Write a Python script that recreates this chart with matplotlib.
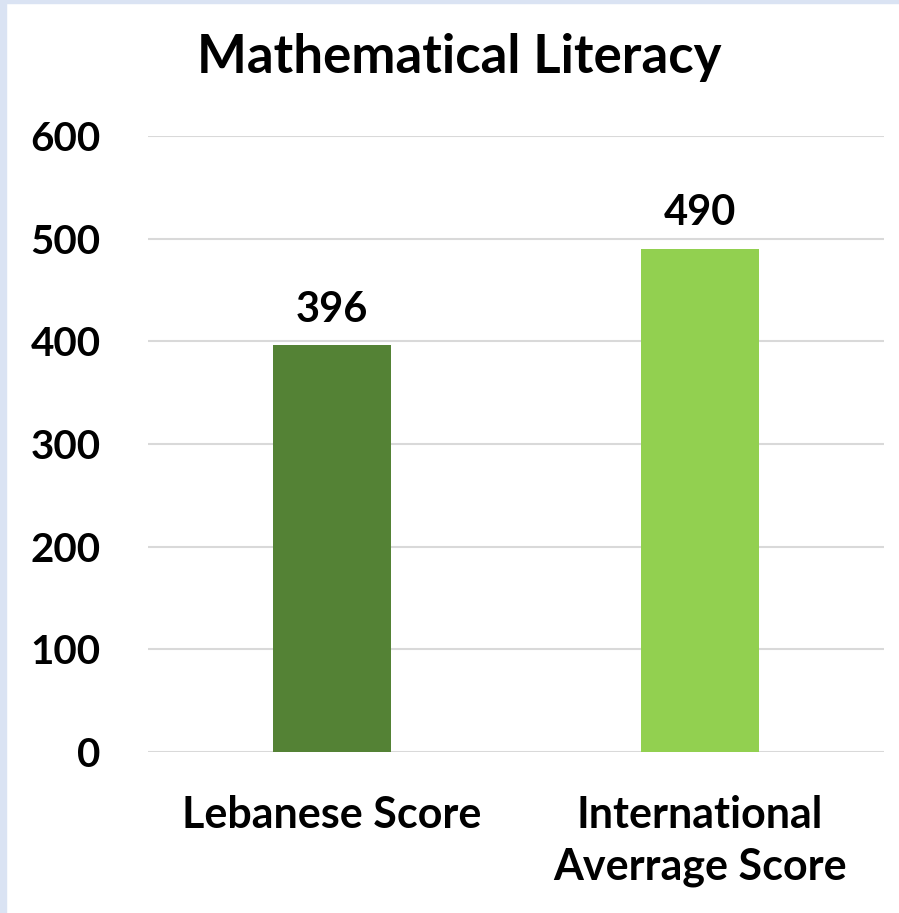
import matplotlib
matplotlib.use("Agg")
import matplotlib.pyplot as plt
from matplotlib.patches import Rectangle

categories = ["Lebanese Score", "International\nAverrage Score"]
values = [396, 490]
colors = ["#548235", "#92D050"]
yticks = [0, 100, 200, 300, 400, 500, 600]
title = "Mathematical Literacy"

plt.rcParams['font.family'] = ['Lato', 'DejaVu Sans']
fig = plt.figure(figsize=(8.99, 9.13), dpi=100)
ax = fig.add_axes([148/899, 1-752/913, 736/899, 616/913])

x = list(range(len(categories)))
bars = ax.bar(x, values, width=0.318, color=colors, zorder=3)
ax.set_xlim(-0.5, len(categories)-0.5)
ax.set_ylim(0, 600)
ax.set_yticks(yticks)
ax.set_yticklabels([str(t) for t in yticks], fontsize=29, fontweight='bold')
ax.set_xticks(x)
ax.set_xticklabels(categories, fontsize=31, fontweight='bold', linespacing=1.35)
ax.tick_params(axis='both', length=0)
ax.tick_params(axis='y', pad=34)
ax.tick_params(axis='x', pad=31)
for lab in ax.get_yticklabels():
    lab.set_horizontalalignment('right')
ax.grid(axis='y', color='#d9d9d9', linewidth=1.5, zorder=0)
for s in ax.spines.values():
    s.set_visible(False)
for xi, v in zip(x, values):
    ax.annotate(str(v), (xi, v), xytext=(0, 12), textcoords='offset points',
                ha='center', va='bottom', fontsize=30, fontweight='bold')
fig.text(459/899, 1-58/913, title, ha='center', va='center', fontsize=38, fontweight='bold')

# light blue frame edges
fig.patches.append(Rectangle((0, 0), 6/899, 1, transform=fig.transFigure, color='#dae3f3', zorder=10))
fig.patches.append(Rectangle((0, 1-3/913), 1, 3/913, transform=fig.transFigure, color='#dae3f3', zorder=10))

fig.savefig("out.png", dpi=100)
